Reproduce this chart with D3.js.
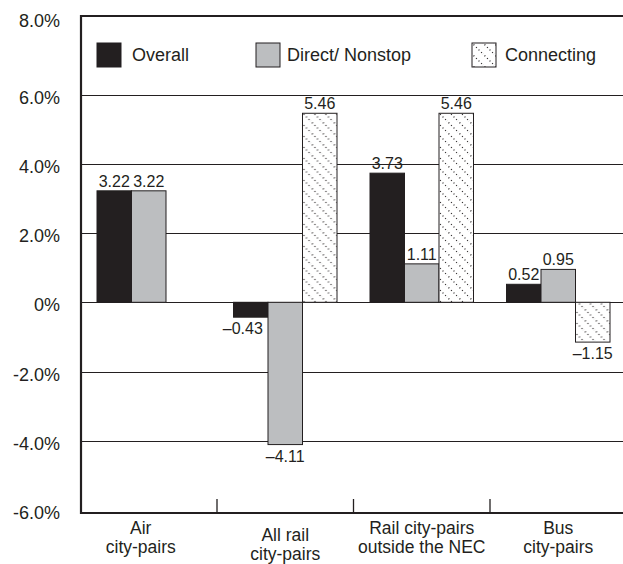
<!DOCTYPE html>
<html>
<head>
<meta charset="utf-8">
<script src="https://cdn.jsdelivr.net/npm/d3@7"></script>
<style>
  body { margin: 0; background: #fff; }
  text { font-family: 'Liberation Sans', Arial, sans-serif; fill: #231f20; }
</style>
</head>
<body>
<script>
const categories = ['Air|city-pairs', 'All rail|city-pairs', 'Rail city-pairs|outside the NEC', 'Bus|city-pairs']
const series = ['Overall', 'Direct/ Nonstop', 'Connecting']
const overall = [3.22, -0.43, 3.73, 0.52]
const direct = [3.22, -4.11, 1.11, 0.95]
const connecting = [null, 5.46, 5.46, -1.15]
const yTicks = [-6, -4, -2, 0, 2, 4, 6, 8]
const gridTicks = [-4, -2, 0, 2, 4, 6]

const width = 623
const height = 564
const ink = '#231f20'
const fills = { 'Overall': '#231f20', 'Direct/ Nonstop': '#bcbec0', 'Connecting': 'url(#hatch)' }

const svg = d3.select('body').append('svg')
  .attr('width', width)
  .attr('height', height)

// dotted diagonal hatch
const pat = svg.append('defs').append('pattern')
  .attr('id', 'hatch')
  .attr('patternUnits', 'userSpaceOnUse')
  .attr('width', 11)
  .attr('height', 11)
pat.append('rect').attr('width', 11).attr('height', 11).attr('fill', '#fff')
pat.append('path')
  .attr('d', 'M-1,-1 L12,12 M-6,5 L1,12 M5,-6 L12,1')
  .attr('stroke', ink)
  .attr('stroke-width', 1.3)
  .attr('stroke-dasharray', '1,2.6')

const y = d3.scaleLinear().domain([-6, 8.27]).range([510, 16])
const x = d3.scaleBand().domain(categories).range([80.5, 626.5]).paddingInner(33 / 136.5).paddingOuter(16.5 / 136.5)
const xs = d3.scaleBand().domain(series).range([0, x.bandwidth()])

// gridlines
svg.append('g').selectAll('line')
  .data(gridTicks)
  .enter().append('line')
  .attr('x1', 81).attr('x2', width)
  .attr('y1', d => Math.round(y(d)) + 0.5).attr('y2', d => Math.round(y(d)) + 0.5)
  .attr('stroke', ink).attr('stroke-width', 1.2)

const rows = categories.map((c, i) => ({
  cat: c,
  vals: [
    { s: series[0], v: overall[i] },
    { s: series[1], v: direct[i] },
    { s: series[2], v: connecting[i] }
  ].filter(d => d.v !== null)
}))

const groups = svg.selectAll('.grp')
  .data(rows)
  .enter().append('g')
  .attr('class', 'grp')
  .attr('transform', d => `translate(${x(d.cat)},0)`)

groups.selectAll('rect')
  .data(d => d.vals)
  .enter().append('rect')
  .attr('x', d => xs(d.s))
  .attr('width', xs.bandwidth())
  .attr('y', d => y(Math.max(0, d.v)))
  .attr('height', d => Math.abs(y(d.v) - y(0)))
  .attr('fill', d => fills[d.s])
  .attr('stroke', ink)
  .attr('stroke-width', 1)

groups.selectAll('text.val')
  .data(d => d.vals)
  .enter().append('text')
  .attr('class', 'val')
  .attr('x', d => xs(d.s) + xs.bandwidth() / 2 - (d.v < 0 && d.s === 'Overall' ? 8 : 0))
  .attr('y', d => d.v >= 0 ? y(d.v) - 4 : y(d.v) + 17)
  .attr('text-anchor', 'middle')
  .style('font-size', '16px')
  .text(d => d.v < 0 ? '\u2013' + Math.abs(d.v).toFixed(2) : d.v.toFixed(2))

// frame: left axis, top and bottom
svg.append('line').attr('x1', 81).attr('x2', 81).attr('y1', 15).attr('y2', 514)
  .attr('stroke', ink).attr('stroke-width', 2.2)
svg.append('line').attr('x1', 80).attr('x2', width).attr('y1', 16).attr('y2', 16)
  .attr('stroke', ink).attr('stroke-width', 2.2)
svg.append('line').attr('x1', 80).attr('x2', width).attr('y1', 513).attr('y2', 513)
  .attr('stroke', ink).attr('stroke-width', 2.2)

// category dividers
svg.append('g').selectAll('line')
  .data(categories.slice(1))
  .enter().append('line')
  .attr('x1', d => x(d) - x.step() * x.paddingInner() / 2)
  .attr('x2', d => x(d) - x.step() * x.paddingInner() / 2)
  .attr('y1', 499).attr('y2', 513)
  .attr('stroke', ink).attr('stroke-width', 1.3)

// y tick labels
svg.append('g').selectAll('text')
  .data(yTicks)
  .enter().append('text')
  .attr('x', 60)
  .attr('y', d => d === 8 ? 27 : y(d) + 9)
  .attr('text-anchor', 'end')
  .style('font-size', '18px')
  .text(d => d === 0 ? '0%' : d.toFixed(1) + '%')

// category labels
const catLab = svg.append('g').selectAll('text')
  .data(categories)
  .enter().append('text')
  .attr('text-anchor', 'middle')
  .style('font-size', '17.5px')
  .attr('transform', (d, i) => `translate(${x(d) + x.bandwidth() / 2 - (i === 0 ? 8 : 0)},${i === 1 ? 541 : 534})`)
catLab.selectAll('tspan')
  .data(d => d.split('|'))
  .enter().append('tspan')
  .attr('x', 0)
  .attr('dy', (d, i) => i === 0 ? 0 : 19)
  .text(d => d)

// legend
const legX = [97, 256, 472]
const leg = svg.append('g').selectAll('g')
  .data(series)
  .enter().append('g')
  .attr('transform', (d, i) => `translate(${legX[i]},43)`)
leg.append('rect')
  .attr('width', 24).attr('height', 24)
  .attr('fill', d => fills[d])
  .attr('stroke', ink).attr('stroke-width', 1)
leg.append('text')
  .attr('x', (d, i) => i === 2 ? 33 : (i === 1 ? 31 : 35))
  .attr('y', 18)
  .style('font-size', '18px')
  .text(d => d)
</script>
</body>
</html>
